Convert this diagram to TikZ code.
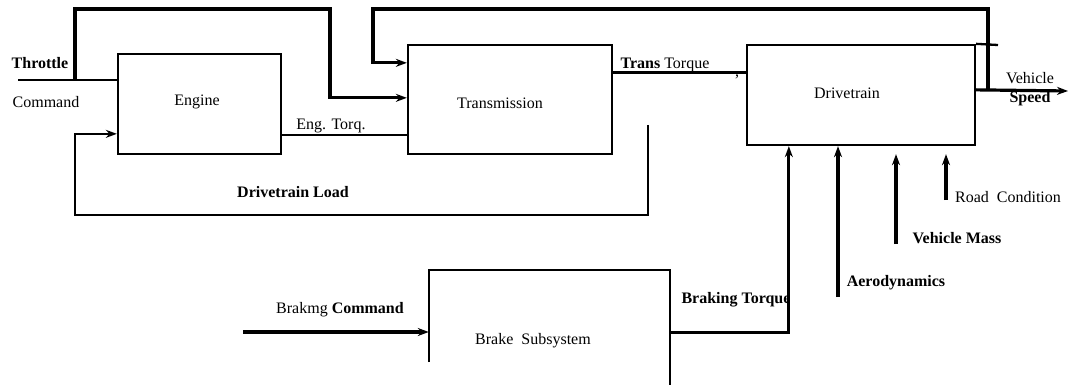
\documentclass[tikz,border=0pt]{standalone}
\usepackage{fontspec}
\setmainfont{Liberation Serif}
\usetikzlibrary{arrows.meta,calc}
\begin{document}
\begin{tikzpicture}[x=1pt,y=-1pt,
  box/.style={draw,line width=2.3pt,inner sep=0pt},
  wire/.style={line width=2.3pt},
  thickwire/.style={line width=3.2pt},
  arr/.style={-{Stealth[length=11pt,width=8pt]}},
  lbl/.style={font=\fontsize{16}{18}\selectfont,inner sep=0pt},
  blbl/.style={font=\fontsize{16}{18}\selectfont\bfseries,inner sep=0pt}]
\useasboundingbox (0,0) rectangle (1070,385);
% boxes
\node[box,minimum width=163pt,minimum height=100pt] (eng) at (199.5,104) {};
\node[box,minimum width=204pt,minimum height=109pt] (trans) at (510,99.5) {};
\node[box,minimum width=228pt,minimum height=100pt] (drive) at (861,95) {};
\node[inner sep=0pt,minimum width=241pt,minimum height=115pt] (brake) at (549.5,327.5) {};
\draw[wire] ([yshift=23pt]brake.south west) -- (brake.north west) -- (brake.north east) -- (brake.south east);
% box texts
\node[lbl] (engt) at (197,102) {Engine};
\node[lbl] (transt) at (500,103) {Transmission};
\node[lbl] (drivet) at (847,93) {Drivetrain};
\node[lbl] (braket) at (533,341) {Brake\ \ Subsystem};
% coordinates
\coordinate (thr) at (18,80);
\coordinate (tb) at (75,80);
\coordinate (tc) at (330,9);
\coordinate (dl) at (648,125);
\coordinate (dlc) at (75,215);
\coordinate (vs) at (988,91);
\coordinate (tl) at (373,9);
\coordinate (dte) at (998,45);
\coordinate (vse) at (1068,91);
\coordinate (bc) at (243,332);
\coordinate (ae) at (838,297);
\coordinate (vm) at (896,244);
\coordinate (rc) at (946,200);
% connectors
\draw[wire] (thr) -- (eng.west |- thr);
\draw[thickwire,arr] (tb) |- (tc) |- ($(trans.north west)+(0,54)$);
\draw[wire] ($(eng.north east)+(0,82)$) -- ($(trans.north west)+(0,91)$);
\draw[wire,arr] (dl) |- (dlc) |- ($(eng.north west)+(0,81)$);
\draw[thickwire,arr] (vs) |- (tl) |- ($(trans.north west)+(0,19)$);
\draw[thickwire] ($(trans.north east)+(0,29)$) -- ($(drive.north west)+(0,29)$);
\draw[wire] (drive.north east) -- (dte);
\draw[thickwire,arr] ($(drive.north east)+(0,46)$) -- (vse);
\draw[thickwire,arr] (bc) -- (bc -| brake.west);
\draw[thickwire,arr] ($(brake.north east)+(0,63)$) -| ($(drive.south west)+(43,0)$);
\draw[thickwire,arr] (ae) -- (ae |- drive.south);
\draw[thickwire,arr] (vm) -- ($(vm |- drive.south)+(0,8)$);
\draw[thickwire,arr] (rc) -- ($(rc |- drive.south)+(0,8)$);
% labels
\node[blbl] (lthr) at (40,63) {Throttle};
\node[lbl] (lcmd) at (46,102) {Command};
\node[lbl] (let) at (331,126) {Eng. Torq.};
\node[blbl] (ldl) at (293,192) {Drivetrain Load};
\node[lbl,anchor=base] (ltt) at (665,69) {\textbf{Trans} Torque};
\node[lbl] (lcomma) at (737,77) {,};
\node[lbl] (lveh) at (1030,78) {Vehicle};
\node[blbl] (lspd) at (1030,99) {Speed};
\node[lbl] (lrc) at (1008,197) {Road\ \ Condition};
\node[blbl] (lvm) at (957,238) {Vehicle Mass};
\node[blbl] (lae) at (896,283) {Aerodynamics};
\node[blbl] (lbt) at (736,300) {Braking Torque};
\node[lbl] (lbc) at (340,310) {Brakmg \textbf{Command}};
\end{tikzpicture}
\end{document}
